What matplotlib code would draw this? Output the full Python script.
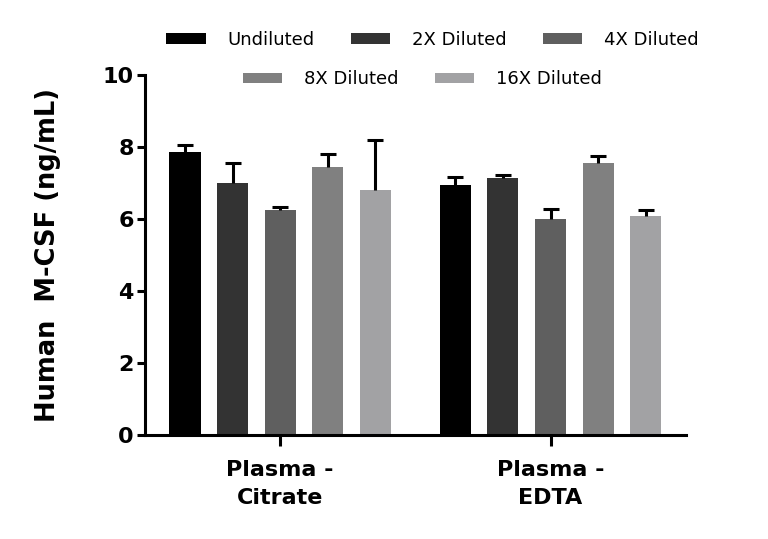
import numpy as np
import matplotlib
matplotlib.use("Agg")
import matplotlib.pyplot as plt

groups = ["Plasma -\nCitrate", "Plasma -\nEDTA"]
series = ["Undiluted", "2X Diluted", "4X Diluted", "8X Diluted", "16X Diluted"]
colors = ["#000000", "#333333", "#5f5f5f", "#808080", "#a2a2a4"]

# mean values (ng/mL) per series, [Citrate, EDTA]
undiluted = [7.87, 6.94]
diluted_2x = [6.99, 7.13]
diluted_4x = [6.24, 5.99]
diluted_8x = [7.43, 7.54]
diluted_16x = [6.79, 6.08]

# upper error (SD)
err_undiluted = [0.19, 0.22]
err_2x = [0.57, 0.09]
err_4x = [0.09, 0.30]
err_8x = [0.37, 0.22]
err_16x = [1.40, 0.16]

means = [undiluted, diluted_2x, diluted_4x, diluted_8x, diluted_16x]
errs = [err_undiluted, err_2x, err_4x, err_8x, err_16x]

fig = plt.figure(figsize=(7.68, 5.39), dpi=100)
ax = fig.add_axes([0.1888, 0.193, 0.704, 0.668])

x = np.arange(len(groups))
step = 0.176
width = 0.115
bars = []
for i, (name, m, e, c) in enumerate(zip(series, means, errs, colors)):
    pos = x + (i - 2) * step
    b = ax.bar(pos, m, width, color=c, label=name, zorder=2)
    bars.append(b)
    _, caps, _ = ax.errorbar(pos, m, yerr=[np.zeros(len(e)), e], fmt="none", ecolor="black",
                             elinewidth=2.2, capsize=5.5, capthick=2.2, zorder=3)
    # only the upper cap is shown
    caps[0].set_visible(False)

ax.set_xlim(-0.5, 1.5)
ax.set_ylim(0, 10)
ax.set_yticks([0, 2, 4, 6, 8, 10])
ax.set_xticks(x)
ax.set_xticklabels(groups, fontsize=16, fontweight="bold", linespacing=1.5)
for lab in ax.get_yticklabels():
    lab.set_fontsize(16)
    lab.set_fontweight("bold")
ax.set_ylabel("Human  M-CSF (ng/mL)", fontsize=18.5, fontweight="bold", labelpad=30)

for s in ["top", "right"]:
    ax.spines[s].set_visible(False)
for s in ["left", "bottom"]:
    ax.spines[s].set_linewidth(2.2)
ax.tick_params(axis="y", width=2.2, length=6, pad=2)
ax.tick_params(axis="x", width=2.2, length=8, pad=10)

leg_kw = dict(frameon=False, fontsize=13, handlelength=2.2, handleheight=0.5,
              handletextpad=1.2, columnspacing=2.0, loc="center")
fig.legend(bars[:3], series[:3], ncol=3, bbox_to_anchor=(0.563, 0.926), **leg_kw)
fig.legend(bars[3:], series[3:], ncol=2, bbox_to_anchor=(0.55, 0.853), **leg_kw)

fig.savefig("out.png", dpi=100)
